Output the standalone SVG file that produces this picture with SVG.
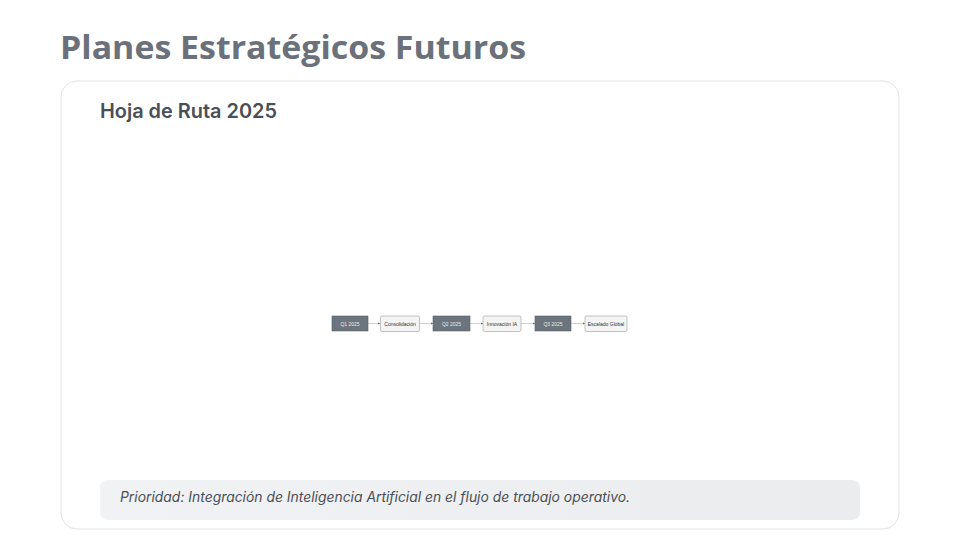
<svg xmlns="http://www.w3.org/2000/svg" width="960" height="540" viewBox="0 0 960 540">
<defs>
<style>
.title{font-family:"Open Sans","Liberation Sans",sans-serif;font-weight:700;font-size:33px;fill:#6b717a}
.sub{font-family:Inter,"Liberation Sans",sans-serif;font-weight:600;font-size:20px;fill:#4a4f57}
.note{font-family:Inter,"Liberation Sans",sans-serif;font-style:italic;font-size:14px;fill:#4a4f57}
.dk rect{fill:#6c757d;stroke:#5a6168;stroke-width:0.6}
.dk text{fill:#e8eaec}
.lt rect{fill:#f4f4f4;stroke:#9a9a9a;stroke-width:0.6}
.lt text{fill:#333}
.n text{font-family:"Liberation Sans",Arial,sans-serif;font-size:5px;text-anchor:middle}
.c line{stroke:#d0d0d0;stroke-width:1}
</style>
<marker id="ah" viewBox="0 0 6 6" refX="6" refY="3" markerWidth="2.2" markerHeight="2.2" orient="auto"><path d="M0,0 L6,3 L0,6 z" fill="#666"/></marker>
<linearGradient id="ng" x1="0" y1="0" x2="1" y2="0"><stop offset="0" stop-color="#f1f2f3"/><stop offset="1" stop-color="#ebeced"/></linearGradient>
</defs>
<rect width="960" height="540" fill="#fff"/>
<text class="title" x="60" y="59" textLength="466" lengthAdjust="spacingAndGlyphs">Planes Estratégicos Futuros</text>
<rect x="61" y="81" width="838" height="448" rx="16" fill="#fff" stroke="#e3e3e3"/>
<text class="sub" x="100" y="118" textLength="177" lengthAdjust="spacingAndGlyphs">Hoja de Ruta 2025</text>
<g class="c" id="connectors">
<line x1="368" y1="323.5" x2="380" y2="323.5" marker-end="url(#ah)"/>
<line x1="419" y1="323.5" x2="433" y2="323.5" marker-end="url(#ah)"/>
<line x1="470" y1="323.5" x2="483" y2="323.5" marker-end="url(#ah)"/>
<line x1="521" y1="323.5" x2="535" y2="323.5" marker-end="url(#ah)"/>
<line x1="571" y1="323.5" x2="585" y2="323.5" marker-end="url(#ah)"/>
</g>
<g id="q1" class="n dk"><rect x="332" y="316" width="36" height="15"/><text x="350" y="325.5">Q1 2025</text></g>
<g id="consolidacion" class="n lt"><rect x="380.5" y="316" width="39" height="15.5" rx="1.5"/><text x="400" y="325.5">Consolidación</text></g>
<g id="q2" class="n dk"><rect x="433" y="316" width="37" height="15"/><text x="451.5" y="325.5">Q2 2025</text></g>
<g id="innovacion" class="n lt"><rect x="483" y="316" width="38" height="15.5" rx="1.5"/><text x="502" y="325.5">Innovación IA</text></g>
<g id="q3" class="n dk"><rect x="535" y="316" width="36" height="15"/><text x="553" y="325.5">Q3 2025</text></g>
<g id="escalado" class="n lt"><rect x="585" y="316" width="42" height="15.5" rx="1.5"/><text x="606" y="325.5">Escalado Global</text></g>
<rect x="100" y="480" width="760" height="40" rx="8" fill="url(#ng)"/>
<text class="note" x="120" y="502" textLength="510" lengthAdjust="spacingAndGlyphs">Prioridad: Integración de Inteligencia Artificial en el flujo de trabajo operativo.</text>
</svg>
